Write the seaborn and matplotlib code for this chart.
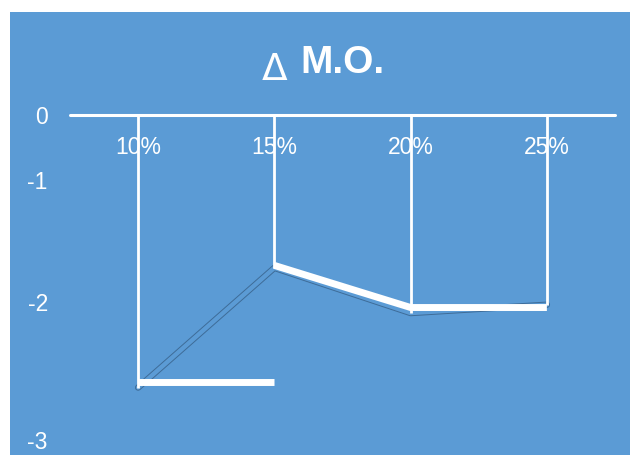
import numpy as np
import pandas as pd
import matplotlib
matplotlib.use("Agg")
import matplotlib.pyplot as plt
import seaborn as sns
from matplotlib.patches import Rectangle
from matplotlib import patheffects as pe

# ---- data ----
categories = ["10%", "15%", "20%", "25%"]
delta_mo = [-2.62, -1.72, -2.08, -2.02]      # thin outlined line
step_vals = [-2.58, -1.70, -2.04, -2.04]     # thick white segments
y_ticks = [0, -1, -2, -3]
y_tick_labels = ["0", "-1", "-2", "-3"]
title_sym = "\u0394"
title_txt = "M.O."

BG = "#5B9BD5"
sns.set_style("white", {"axes.facecolor": "none"})
plt.rcParams["font.family"] = ["Liberation Sans", "DejaVu Sans"]

fig = plt.figure(figsize=(6.3, 4.55), dpi=100)
fig.patches.append(Rectangle((10 / 630, 0), 1, (455 - 12) / 455,
                             transform=fig.transFigure, facecolor=BG,
                             edgecolor="none", zorder=-10))

ax = fig.add_axes([70 / 630, 1 - 440 / 455, 545 / 630, 325 / 455])
ax.set_zorder(5)
ax.patch.set_visible(False)

# axis scale as laid out in the reference (tick spacing is uneven)
_tv = [-3, -2, -1, 0]
_tp = [440, 302, 180, 115]


def fwd(v):
    return -np.interp(np.asarray(v, dtype=float), _tv, _tp)


def inv(t):
    return np.interp(-np.asarray(t, dtype=float), _tp[::-1], _tv[::-1])


ax.set_yscale("function", functions=(fwd, inv))

x = np.arange(len(categories))
df = pd.DataFrame({"x": x, "y": delta_mo})

sns.lineplot(data=df, x="x", y="y", ax=ax, color=BG, lw=3.2,
             solid_capstyle="round", zorder=2,
             path_effects=[pe.Stroke(linewidth=4.6, foreground="#3E6C98",
                                     capstyle="round"), pe.Normal()])

ax.vlines(x, 0, delta_mo, colors="white", lw=2, zorder=3)
ax.axhline(0, color="white", lw=2.2, clip_on=False, zorder=3)

# thick white segments
ax.plot([x[0], x[1]], [step_vals[0], step_vals[0]], color="white", lw=5,
        solid_capstyle="butt", zorder=4)
ax.plot(x[1:], step_vals[1:], color="white", lw=5,
        solid_capstyle="butt", solid_joinstyle="miter", zorder=4)

ax.set_xlim(-0.5, 3.5)
ax.set_ylim(-3, 0)
ax.set_xticks(x, categories)
ax.set_yticks(y_ticks, y_tick_labels)
ax.set_xlabel("")
ax.set_ylabel("")
for s in ax.spines.values():
    s.set_visible(False)
ax.tick_params(axis="y", length=0, pad=16, labelsize=16.5, labelcolor="white")
ax.tick_params(axis="x", length=0, bottom=False, labelbottom=False,
               top=False, labeltop=True, pad=-31.5, labelsize=16.5,
               labelcolor="white")

fig.text(275 / 630, 1 - 80 / 455, title_sym, ha="center", va="baseline",
         fontsize=27, color="white", family=["DejaVu Sans"])
fig.text(300 / 630, 1 - 73 / 455, title_txt, ha="left", va="baseline",
         fontsize=28, fontweight="bold", color="white")

fig.savefig("out.png", dpi=100)
